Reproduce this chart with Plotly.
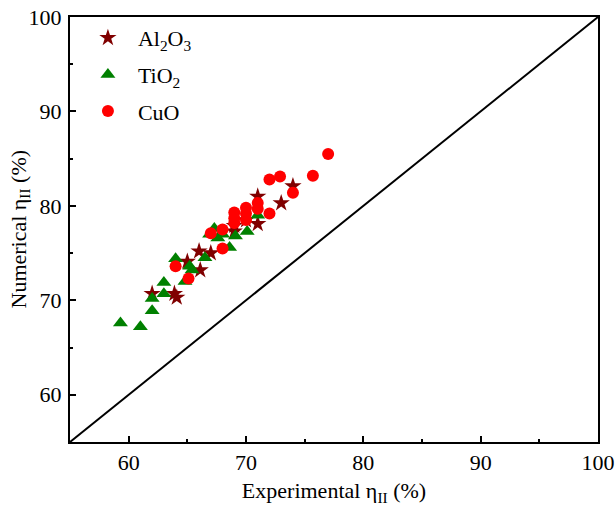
import plotly.graph_objects as go

# Al2O3
al_x = [62.0, 63.9, 64.1, 65.0, 66.1, 66.0, 67.0, 69.0, 69.0, 70.0, 71.0, 71.0, 73.0, 74.0]
al_y = [70.7, 70.7, 70.3, 74.1, 73.2, 75.2, 75.0, 77.9, 77.3, 78.5, 81.0, 78.1, 80.3, 82.1]
# TiO2
ti_x = [59.3, 61.0, 62.0, 62.0, 63.0, 63.0, 64.0, 64.8, 65.2, 65.4, 66.5, 66.9, 67.3, 67.6, 68.0, 68.6, 69.1, 70.1, 71.0]
ti_y = [67.6, 67.2, 68.9, 70.2, 71.9, 70.7, 74.4, 72.0, 73.6, 73.2, 74.5, 77.0, 77.6, 76.6, 77.0, 75.6, 76.8, 77.3, 79.0]
# CuO
cu_x = [64.0, 65.1, 67.0, 68.0, 68.0, 69.0, 69.0, 69.0, 70.0, 70.0, 70.0, 71.0, 71.0, 72.0, 72.0, 72.9, 74.0, 75.7, 77.0]
cu_y = [73.6, 72.3, 77.1, 77.5, 75.5, 79.3, 78.7, 78.2, 79.8, 79.2, 78.5, 80.3, 79.7, 79.2, 82.8, 83.1, 81.4, 83.2, 85.5]

diag = [55, 100]

font_family = "Liberation Serif"
fs = 22

fig = go.Figure()
fig.add_trace(go.Scatter(x=diag, y=diag, mode="lines", line=dict(color="black", width=2),
                         showlegend=False, hoverinfo="skip"))
fig.add_trace(go.Scatter(x=al_x, y=al_y, mode="markers", name="Al<sub>2</sub>O<sub>3</sub>",
                         legendgroup="a",
                         marker=dict(symbol="star", size=13, color="#800000")))
fig.add_trace(go.Scatter(x=ti_x, y=ti_y, mode="markers", name="TiO<sub>2</sub>",
                         legendgroup="b",
                         marker=dict(symbol="triangle-up", size=13, color="#008000")))
fig.add_trace(go.Scatter(x=cu_x, y=cu_y, mode="markers", name="CuO",
                         legendgroup="c",
                         marker=dict(symbol="circle", size=12, color="#ff0000")))

axis_common = dict(
    range=[55, 100], showgrid=False, zeroline=False, automargin=False,
    showline=True, linecolor="black", linewidth=2, mirror=True,
    ticks="inside", ticklen=6, tickwidth=2, tickcolor="black",
    tick0=60, dtick=10, ticklabeloverflow="allow",
    minor=dict(ticks="inside", ticklen=3, tickwidth=2, tickcolor="black", dtick=5, tick0=55),
    tickfont=dict(family=font_family, size=fs, color="black"),
)

fig.update_layout(
    width=615, height=506,
    margin=dict(l=70, r=17, t=17, b=64),
    plot_bgcolor="white", paper_bgcolor="white",
    font=dict(family=font_family, size=fs, color="black"),
    xaxis=dict(axis_common, ticklabelstandoff=0,
               title=dict(text="Experimental η<sub>II</sub> (%)",
                          font=dict(family=font_family, size=fs), standoff=12)),
    yaxis=dict(axis_common, ticklabelstandoff=2),
    annotations=[dict(text="Numerical η<sub>II</sub> (%)", xref="paper", yref="paper",
                      x=0, y=0.5, xanchor="center", yanchor="middle", xshift=-51,
                      textangle=-90, showarrow=False,
                      font=dict(family=font_family, size=fs, color="black"))],
    legend=dict(x=0.015, y=1.0, xanchor="left", yanchor="top",
                bgcolor="rgba(0,0,0,0)", font=dict(family=font_family, size=fs),
                itemwidth=50, tracegroupgap=5),
)

fig.write_html("out.html", config={"displayModeBar": False},
               post_script="document.body.style.margin='0';")
